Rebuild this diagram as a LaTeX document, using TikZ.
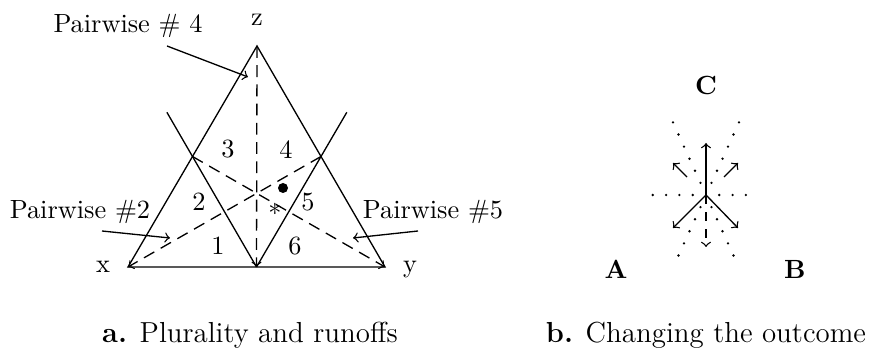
\documentclass[tikz,border=0pt]{standalone}
\usepackage{xcolor}
\usepackage{tikz}
\usetikzlibrary{arrows}
\usetikzlibrary{calc,positioning}

\begin{document}
\begin{tikzpicture}[x=0.38pt,y=-0.38pt,line width=0.5pt,
    median/.style={dash pattern=on 4.5pt off 2.8pt},
    lbl/.style={font=\fontsize{10}{12}\selectfont},
    capt/.style={font=\fontsize{11}{13}\selectfont, anchor=base},
    dot/.style={fill=black}]

    \useasboundingbox (0,0) rectangle (869,351);

    % Triangle
    \coordinate (vx) at (128,267);
    \coordinate (vy) at (385,267);
    \coordinate (vz) at (257,46);
    \coordinate (mxy) at ($(vx)!0.5!(vy)$);
    \coordinate (mxz) at ($(vx)!0.5!(vz)$);
    \coordinate (myz) at ($(vy)!0.5!(vz)$);
    \draw (vx) -- (vy) -- (vz) -- cycle;

    % Inner lines
    \draw (mxy) -- ($(mxy)!1.4!(mxz)$);
    \draw (mxy) -- ($(mxy)!1.4!(myz)$);

    % Medians
    \draw[median,->] (vz) -- (mxy);
    \draw[median,->] (myz) -- (vx);
    \draw[median,->] (mxz) -- (vy);

    % Vertices
    \node[lbl, anchor=base] (lz) at (257,26) {z};
    \node[lbl, anchor=base] (lx) at (103,273) {x};
    \node[lbl, anchor=base] (ly) at (410,273) {y};

    % Regions
    \node[lbl] (r1) at (218,246) {1};
    \node[lbl] (r2) at (199,202) {2};
    \node[lbl] (r3) at (228,149) {3};
    \node[lbl] (r4) at (286,150) {4};
    \node[lbl] (r5) at (308,202) {5};
    \node[lbl] (r6) at (295,246) {6};

    \fill (283,188) circle (1.9pt);
    \node[lbl] (star) at (275,209) {$*$};

    % Pairwise
    \node[lbl] (p4) at (128,26) {Pairwise \# 4};
    \node[lbl] (p2) at (80,212) {Pairwise \#2};
    \node[lbl] (p5) at (433,212) {Pairwise \#5};
    \coordinate (p4a) at (167,46);
    \coordinate (p4b) at (248,77);
    \coordinate (p2a) at (102,231);
    \coordinate (p2b) at (170,238);
    \coordinate (p5a) at (418,231);
    \coordinate (p5b) at (353,238);
    \draw[->] (p4a) -- (p4b);
    \draw[->] (p2a) -- (p2b);
    \draw[->] (p5a) -- (p5b);

    % Right figure
    \coordinate (O) at (706,195);
    \node[lbl, font=\bfseries] (C) at (706,85) {C};
    \node[lbl, font=\bfseries] (A) at (616,269) {A};
    \node[lbl, font=\bfseries] (B) at (795,269) {B};

    \foreach \i in {-4,...,-1,1,2,3}
        \fill ($(O)+(\i*13.3,0)$) circle (0.5pt);
    \foreach \i in {-6,...,-1,1,2,3,4,5} {
        \fill ($(O)+(\i*5.5,\i*12.1)$) circle (0.5pt);
        \fill ($(O)+(-\i*5.5,\i*12.1)$) circle (0.5pt);
    }

    \coordinate (up) at (706,143);
    \coordinate (dn) at (706,247);
    \coordinate (ll) at (673,228);
    \coordinate (lr) at (738,228);
    \coordinate (ula) at (687,177);
    \coordinate (ulb) at (673,163);
    \coordinate (ura) at (724,177);
    \coordinate (urb) at (738,163);
    \draw[->] (O) -- (up);
    \draw[->, dash pattern=on 3.5pt off 3pt] (O) -- (dn);
    \draw[->] (O) -- (ll);
    \draw[->] (O) -- (lr);
    \draw[->] (ula) -- (ulb);
    \draw[->] (ura) -- (urb);

    % Captions
    \node[capt] (capa) at (250,343) {\textbf{a.} Plurality and runoffs};
    \node[capt] (capb) at (706,343) {\textbf{b.} Changing the outcome};

\end{tikzpicture}
\end{document}
